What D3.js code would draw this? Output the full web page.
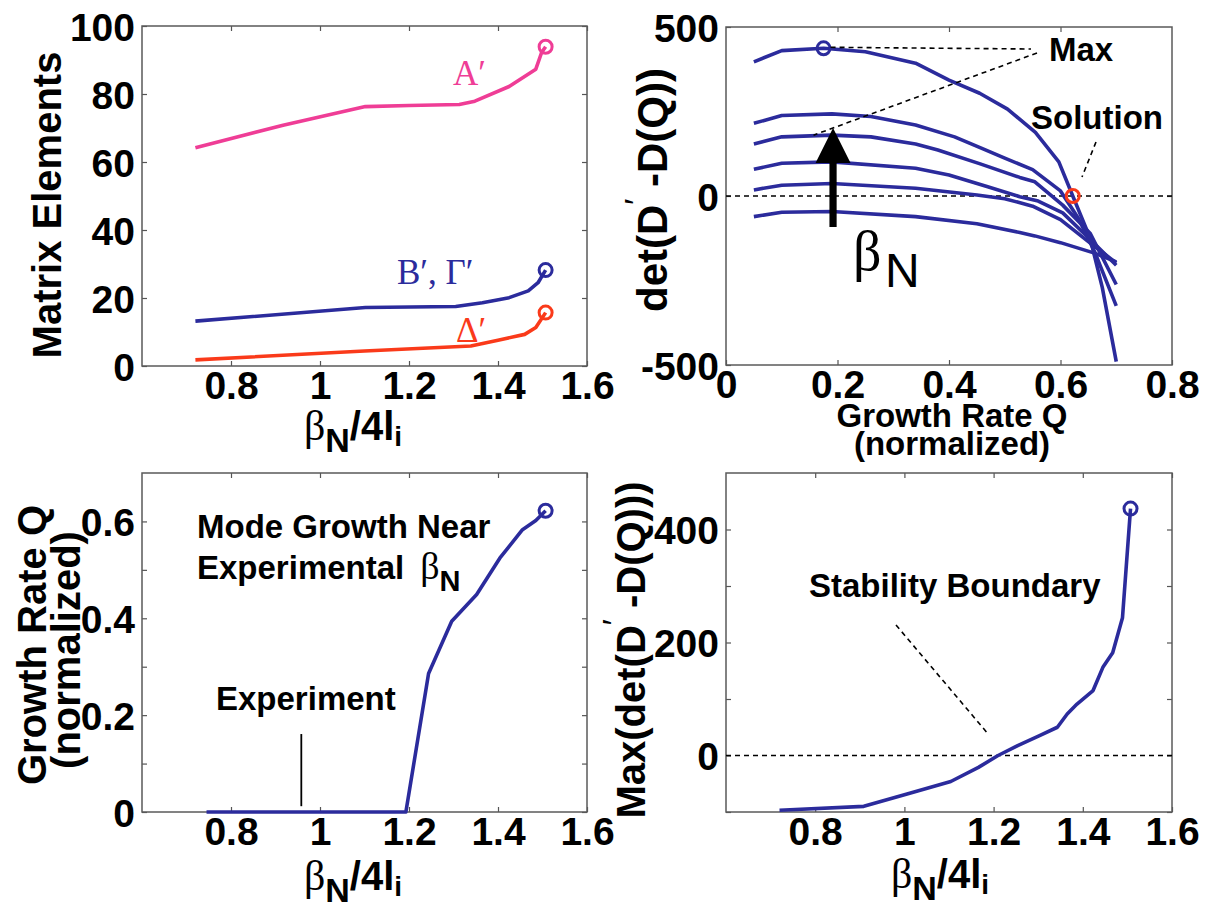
<!DOCTYPE html>
<html>
<head>
<meta charset="utf-8">
<script src="https://cdn.jsdelivr.net/npm/d3@7"></script>
<style>
  body { margin: 0; background: #fff; }
  svg { display: block; }
</style>
</head>
<body>
<svg id="fig" width="1218" height="905"></svg>
<script>
// ---------- data ----------
// shared abscissa: beta_N / 4 l_i
const betaTicks = [0.8, 1.0, 1.2, 1.4, 1.6];

// top-left: matrix elements
const matrixTicks = [0, 20, 40, 60, 80, 100];
const aPrimeBeta = [0.72, 0.917, 1.102, 1.20, 1.313, 1.348, 1.425, 1.485, 1.498, 1.507];
const aPrimeVal  = [64.2, 70.8, 76.3, 76.6, 76.9, 77.9, 82.2, 87.3, 92.2, 93.9];
const bGammaBeta = [0.72, 1.102, 1.305, 1.365, 1.425, 1.468, 1.49, 1.507];
const bGammaVal  = [13.2, 17.2, 17.5, 18.6, 20.1, 22.1, 24.5, 28.2];
const deltaBeta  = [0.72, 1.10, 1.339, 1.40, 1.46, 1.485, 1.507];
const deltaVal   = [1.8, 4.4, 5.9, 7.6, 9.3, 11.3, 15.7];

// top-right: det(D' - D(Q)) versus growth rate Q, one curve per beta_N
const qTicks = [0, 0.2, 0.4, 0.6, 0.8];
const detTicks = [-500, 0, 500];
const curve1Q   = [0.05, 0.10, 0.175, 0.25, 0.34, 0.40, 0.455, 0.505, 0.555, 0.597, 0.622, 0.653, 0.675, 0.70];
const curve1Det = [397, 430, 437, 427, 393, 343, 304, 257, 188, 101, 0, -124, -271, -490];
const curve2Q   = [0.05, 0.10, 0.19, 0.26, 0.34, 0.41, 0.46, 0.50, 0.55, 0.60, 0.632, 0.661, 0.70];
const curve2Det = [215, 238, 243, 235, 210, 175, 140, 112, 78, 15, -66, -164, -325];
const curve3Q   = [0.05, 0.10, 0.19, 0.26, 0.34, 0.38, 0.456, 0.527, 0.554, 0.604, 0.653, 0.70];
const curve3Det = [154, 175, 180, 175, 154, 136, 95, 55, 42, -27, -110, -262];
const curve4Q   = [0.05, 0.10, 0.19, 0.34, 0.40, 0.468, 0.527, 0.56, 0.604, 0.653, 0.70];
const curve4Det = [79, 97, 101, 82, 62, 28, -2, -15, -50, -128, -205];
const curve5Q   = [0.05, 0.10, 0.19, 0.34, 0.45, 0.50, 0.55, 0.60, 0.65, 0.70];
const curve5Det = [18, 32, 37, 23, 3, -8, -30, -70, -135, -198];
const curve6Q   = [0.05, 0.10, 0.19, 0.34, 0.45, 0.527, 0.554, 0.60, 0.661, 0.70];
const curve6Det = [-61, -48, -46, -61, -82, -108, -118, -138, -169, -195];

// bottom-left: growth rate of the mode
const growthTicks = [0, 0.1, 0.2, 0.3, 0.4, 0.5, 0.6];
const growthBeta = [0.745, 1.193, 1.244, 1.296, 1.352, 1.404, 1.455, 1.485, 1.507];
const growthQ    = [0, 0, 0.286, 0.394, 0.449, 0.524, 0.583, 0.602, 0.622];
const experimentBeta = 0.958;

// bottom-right: maximum of the determinant
const maxTicks = [-100, 0, 100, 200, 300, 400];
const maxBeta = [0.72, 0.909, 1.006, 1.104, 1.166, 1.21, 1.254, 1.303, 1.343, 1.365, 1.387, 1.423, 1.445, 1.467, 1.489, 1.497, 1.507];
const maxDet  = [-97, -90, -68, -46, -21, 0, 17.6, 35, 50, 73.5, 91, 115, 156, 182, 244, 330, 437];

// ---------- styling ----------
const PINK = "#ef3d96", NAVY = "#2b2b9c", RED = "#fa3a1a";
const SANS = '"Liberation Sans", Arial, Helvetica, sans-serif';
const SERIF = '"Liberation Serif", "Times New Roman", "DejaVu Serif", serif';
const TICK_FS = 39, LABEL_FS = 40, NOTE_FS = 33, LINE_W = 3.6;

const svg = d3.select("#fig").attr("font-family", SANS);
const num = d => String(+(+d).toFixed(2));

function panel({left, top, width, height, xDomain, yDomain, xTicks, yTicks, xFmt, yFmt, topTicks, rightTicks}) {
  const g = svg.append("g").attr("transform", `translate(${left},${top})`);
  const x = d3.scaleLinear().domain(xDomain).range([0, width]);
  const y = d3.scaleLinear().domain(yDomain).range([height, 0]);

  const tidy = sel => {
    sel.select(".domain").remove();
    sel.selectAll(".tick line").attr("stroke", "#555").attr("stroke-width", 1.2);
  };
  // bottom axis with labels
  g.append("g").attr("transform", `translate(0,${height})`)
    .call(d3.axisBottom(x).tickValues(xTicks).tickSize(-5).tickFormat(xFmt))
    .call(tidy)
    .call(s => s.selectAll("text").attr("y", 33).attr("dy", null)
      .attr("font-family", SANS).attr("font-weight", "bold").attr("font-size", TICK_FS).attr("fill", "#000"));
  // left axis with labels
  g.append("g")
    .call(d3.axisLeft(y).tickValues(yTicks).tickSize(-5).tickPadding(7).tickFormat(yFmt))
    .call(tidy)
    .call(s => s.selectAll("text").attr("dy", "0.36em")
      .attr("font-family", SANS).attr("font-weight", "bold").attr("font-size", TICK_FS).attr("fill", "#000"));
  // top / right: ticks only
  g.append("g").call(d3.axisTop(x).tickValues(topTicks || xTicks).tickSize(-5).tickFormat("")).call(tidy);
  g.append("g").attr("transform", `translate(${width},0)`)
    .call(d3.axisRight(y).tickValues(rightTicks || yTicks).tickSize(-5).tickFormat("")).call(tidy);
  // frame
  g.append("rect").attr("width", width).attr("height", height)
    .attr("fill", "none").attr("stroke", "#5a5a5a").attr("stroke-width", 1.5);
  return {g, x, y};
}

function drawLine(p, xs, ys, color, width = LINE_W) {
  const line = d3.line().x(d => p.x(d[0])).y(d => p.y(d[1]));
  p.g.append("path").datum(d3.zip(xs, ys)).attr("d", line)
    .attr("fill", "none").attr("stroke", color).attr("stroke-width", width)
    .attr("stroke-linejoin", "round").attr("stroke-linecap", "butt");
}
function ring(p, xv, yv, color) {
  p.g.append("circle").attr("cx", p.x(xv)).attr("cy", p.y(yv)).attr("r", 6.5)
    .attr("fill", "none").attr("stroke", color).attr("stroke-width", 3);
}
function dashed(p, x1, y1, x2, y2) {
  p.g.append("line").attr("x1", x1).attr("y1", y1).attr("x2", x2).attr("y2", y2)
    .attr("stroke", "#000").attr("stroke-width", 1.6).attr("stroke-dasharray", "5,4");
}
function boldText(x, y, str, size = NOTE_FS) {
  return svg.append("text").attr("x", x).attr("y", y).attr("font-family", SANS)
    .attr("font-weight", "bold").attr("font-size", size).attr("fill", "#000").text(str);
}
function serifText(x, y, str, color, size) {
  return svg.append("text").attr("x", x).attr("y", y).attr("font-family", SERIF)
    .attr("font-size", size).attr("fill", color).text(str);
}
// beta_N / 4 l_i axis title
function betaTitle(cx, baseline) {
  const t = svg.append("text").attr("x", cx).attr("y", baseline).attr("text-anchor", "middle")
    .attr("font-family", SANS).attr("font-weight", "bold").attr("font-size", LABEL_FS).attr("fill", "#000");
  t.append("tspan").attr("font-family", SERIF).attr("font-weight", "normal").attr("font-size", 42).text("β");
  t.append("tspan").attr("font-size", 34).attr("dy", 12).text("N");
  t.append("tspan").attr("dy", -12).text("/4l");
  t.append("tspan").attr("font-size", 28).attr("dy", 6).text("i");
}
// rotated axis title
function yTitle(x, cy, build, size = LABEL_FS) {
  const t = svg.append("text").attr("transform", `translate(${x},${cy}) rotate(-90)`)
    .attr("text-anchor", "middle").attr("font-family", SANS).attr("font-weight", "bold")
    .attr("font-size", size).attr("fill", "#000");
  build(t);
  return t;
}

// ---------- top-left: matrix elements ----------
const tl = panel({left: 142, top: 26, width: 445, height: 340,
  xDomain: [0.6, 1.6], yDomain: [0, 100], xTicks: betaTicks, yTicks: matrixTicks,
  xFmt: num, yFmt: num});
drawLine(tl, aPrimeBeta, aPrimeVal, PINK);
drawLine(tl, bGammaBeta, bGammaVal, NAVY);
drawLine(tl, deltaBeta, deltaVal, RED);
ring(tl, aPrimeBeta.at(-1), aPrimeVal.at(-1), PINK);
ring(tl, bGammaBeta.at(-1), bGammaVal.at(-1), NAVY);
ring(tl, deltaBeta.at(-1), deltaVal.at(-1), RED);
serifText(453, 85, "A′", PINK, 35);
serifText(397, 284, "B′, Γ′", NAVY, 35);
serifText(456, 342, "Δ′", RED, 35);
yTitle(61, 205, t => t.text("Matrix Elements"));
betaTitle(353, 440);

// ---------- top-right: determinant versus Q ----------
const tr = panel({left: 726, top: 27, width: 446, height: 338,
  xDomain: [0, 0.8], yDomain: [-500, 500], xTicks: qTicks, yTicks: detTicks,
  xFmt: num, yFmt: num, topTicks: [0.2, 0.4, 0.6], rightTicks: [0]});
dashed(tr, 0, tr.y(0), 446, tr.y(0));
[[curve6Q, curve6Det], [curve5Q, curve5Det], [curve4Q, curve4Det],
 [curve3Q, curve3Det], [curve2Q, curve2Det], [curve1Q, curve1Det]]
  .forEach(([q, v]) => drawLine(tr, q, v, NAVY));
const peakIdx = d3.maxIndex(curve1Det);
ring(tr, curve1Q[peakIdx], curve1Det[peakIdx], NAVY);
ring(tr, curve1Q[curve1Det.indexOf(0)], 0, RED);
// leaders to "Max"
dashed(tr, tr.x(curve1Q[peakIdx]) + 7, tr.y(curve1Det[peakIdx]) - 1, 305, 22);
dashed(tr, 311, 26, tr.x(0.157), tr.y(180));
// leader to "Solution"
dashed(tr, 370, 115, 356, 150);
// arrow of increasing beta_N
{
  const ax = tr.x(0.192), tip = tr.y(201), base = tr.y(98), foot = tr.y(-92);
  tr.g.append("path")
    .attr("d", `M${ax},${tip} L${ax + 17.5},${base} L${ax + 3.6},${base} L${ax + 3.6},${foot}` +
               ` L${ax - 3.6},${foot} L${ax - 3.6},${base} L${ax - 17.5},${base} Z`)
    .attr("fill", "#000");
}
serifText(853, 270, "β", "#000", 56);
svg.append("text").attr("x", 885).attr("y", 287).attr("font-family", SANS).attr("font-size", 48).text("N");
boldText(1049, 61, "Max");
boldText(1031, 129, "Solution");
yTitle(667, 190, t => {
  t.append("tspan").text("det(D");
  t.append("tspan").attr("font-size", 32).attr("font-weight", "normal").attr("dy", -20).text("′");
  t.append("tspan").attr("dy", 20).text(" -D(Q))");
}, 42);
svg.append("text").attr("x", 952).attr("y", 427).attr("text-anchor", "middle").attr("font-family", SANS)
  .attr("font-weight", "bold").attr("font-size", 33).text("Growth Rate Q");
svg.append("text").attr("x", 952).attr("y", 455).attr("text-anchor", "middle").attr("font-family", SANS)
  .attr("font-weight", "bold").attr("font-size", 33).text("(normalized)");

// ---------- bottom-left: growth rate ----------
const bl = panel({left: 142, top: 473, width: 445, height: 339,
  xDomain: [0.6, 1.6], yDomain: [0, 0.7], xTicks: betaTicks, yTicks: growthTicks,
  xFmt: num, yFmt: d => (Math.round(d * 10) % 2 === 0 ? num(d) : "")});
drawLine(bl, growthBeta, growthQ, NAVY);
ring(bl, growthBeta.at(-1), growthQ.at(-1), NAVY);
bl.g.append("line").attr("x1", bl.x(experimentBeta)).attr("x2", bl.x(experimentBeta))
  .attr("y1", bl.y(0.161)).attr("y2", bl.y(0.012)).attr("stroke", "#000").attr("stroke-width", 1.8);
boldText(216, 710, "Experiment");
boldText(197, 538, "Mode Growth Near");
{
  const t = boldText(197, 579, "Experimental");
  t.append("tspan").attr("dx", 16).attr("font-family", SERIF).attr("font-weight", "normal")
    .attr("font-size", 38).text("β");
  t.append("tspan").attr("font-size", 29).attr("dy", 12).text("N");
}
yTitle(46, 645, t => t.text("Growth Rate Q"));
yTitle(80, 650, t => t.text("(normalized)"));
betaTitle(353, 890);

// ---------- bottom-right: stability boundary ----------
const br = panel({left: 726, top: 473, width: 446, height: 339,
  xDomain: [0.6, 1.6], yDomain: [-100, 500], xTicks: betaTicks, yTicks: maxTicks,
  xFmt: num, yFmt: d => (d % 200 === 0 ? num(d) : "")});
dashed(br, 0, br.y(0), 446, br.y(0));
drawLine(br, maxBeta, maxDet, NAVY);
ring(br, maxBeta.at(-1), maxDet.at(-1), NAVY);
dashed(br, 170, 152, 263, 262);
boldText(809, 597, "Stability Boundary");
yTitle(645, 650, t => {
  t.append("tspan").text("Max(det(D");
  t.append("tspan").attr("font-size", 32).attr("font-weight", "normal").attr("dy", -20).text("′");
  t.append("tspan").attr("dy", 20).text(" -D(Q)))");
});
betaTitle(940, 888);
</script>
</body>
</html>
